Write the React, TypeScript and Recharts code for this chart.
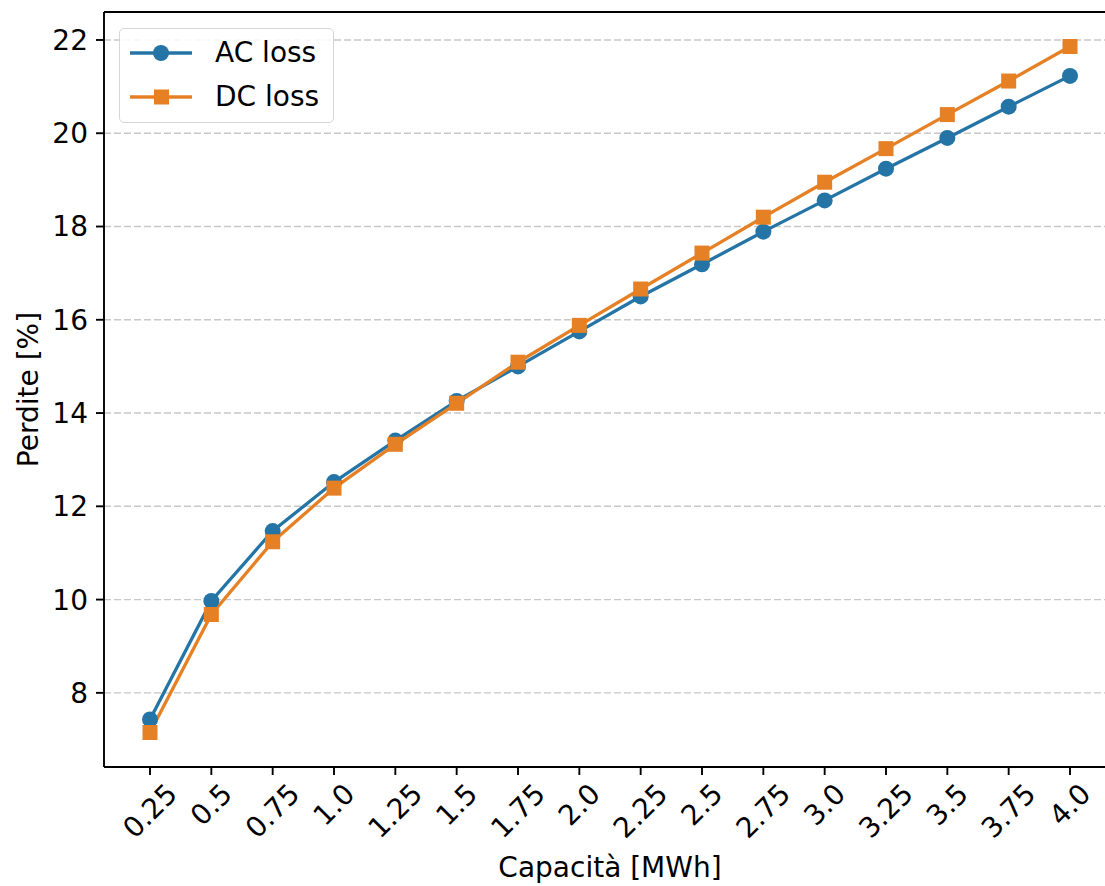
import React from "react";
import {
    LineChart,
    Line,
    XAxis,
    YAxis,
    CartesianGrid,
    ReferenceLine,
} from "recharts";

// Storage capacity (MWh) and the matching tick labels
const capacity = [0.25, 0.5, 0.75, 1.0, 1.25, 1.5, 1.75, 2.0, 2.25, 2.5, 2.75, 3.0, 3.25, 3.5, 3.75, 4.0];
const capacityLabels = ["0.25", "0.5", "0.75", "1.0", "1.25", "1.5", "1.75", "2.0", "2.25", "2.5", "2.75", "3.0", "3.25", "3.5", "3.75", "4.0"];

// Losses in percent
const acLoss = [7.43, 9.97, 11.47, 12.52, 13.41, 14.26, 15.0, 15.75, 16.5, 17.19, 17.89, 18.56, 19.24, 19.9, 20.57, 21.23];
const dcLoss = [7.15, 9.68, 11.24, 12.39, 13.33, 14.21, 15.09, 15.88, 16.66, 17.43, 18.2, 18.95, 19.67, 20.4, 21.12, 21.86];

const yTicks = [8, 10, 12, 14, 16, 18, 20, 22];
const X_DOMAIN: [number, number] = [0.0625, 4.1875];
const Y_DOMAIN: [number, number] = [6.41, 22.6];

const BLUE = "#2474a6";
const ORANGE = "#e68024";
const FONT = "DejaVu Sans";
const FS = 28;

const data = capacity.map((c, i) => ({ x: c, ac: acLoss[i], dc: dcLoss[i] }));

const series = [
    { key: "ac", name: "AC loss", color: BLUE, square: false },
    { key: "dc", name: "DC loss", color: ORANGE, square: true },
];

// rough ink width of a numeric label in DejaVu Sans
const labelWidth = (s: string) =>
    s.split("").reduce((w, ch) => w + (ch === "." ? 0.318 : 0.636), 0) * FS - 3;

const RotatedTick = (props: any) => {
    const { x, y, payload } = props;
    const idx = capacity.indexOf(payload.value);
    const text = idx >= 0 ? capacityLabels[idx] : String(payload.value);
    const half = (labelWidth(text) + 20) * 0.3535;
    const cy = y + 6 + half;
    return (
        <text
            transform={`translate(${x},${cy}) rotate(-45)`}
            textAnchor="middle"
            dominantBaseline="central"
            fontFamily={FONT}
            fontSize={FS}
            fill="#000"
        >
            {text}
        </text>
    );
};

const SquareDot = (props: any) => {
    const { cx, cy, index } = props;
    if (cx == null || cy == null) return null;
    return <rect key={`sq-${index}`} x={cx - 7.5} y={cy - 7.5} width={15} height={15} fill={ORANGE} />;
};

// legend drawn over the top-left corner of the plot
const LegendBox = () => (
    <div
        style={{
            position: "absolute",
            left: 119,
            top: 28,
            width: 213,
            height: 93,
            border: "1.5px solid #d6d6d6",
            borderRadius: 5,
            background: "rgba(255,255,255,0.85)",
            fontFamily: FONT,
            fontSize: FS,
        }}
    >
        {series.map((item, i) => (
            <div key={item.key} style={{ position: "absolute", left: 0, top: 6 + i * 44, height: 36, display: "flex", alignItems: "center" }}>
                <svg width={84} height={36} style={{ display: "block" }}>
                    <line x1={10} x2={72} y1={18} y2={18} stroke={item.color} strokeWidth={3.3} />
                    {item.square ? (
                        <rect x={34} y={10.5} width={15} height={15} fill={item.color} />
                    ) : (
                        <circle cx={41} cy={18} r={8} fill={item.color} />
                    )}
                </svg>
                <span style={{ marginLeft: 11, lineHeight: "36px", color: "#000" }}>{item.name}</span>
            </div>
        ))}
    </div>
);

export default function App() {
    return (
        <div style={{ position: "absolute", left: 0, top: 0, width: 1105, height: 886, overflow: "hidden", background: "#fff" }}>
            <LineChart width={1116} height={886} data={data} margin={{ top: 12, right: 0, bottom: 0, left: 0 }}>
                <CartesianGrid vertical={false} stroke="#c8c8c8" strokeWidth={1.4} strokeDasharray="7 3" />
                <XAxis
                    type="number"
                    dataKey="x"
                    domain={X_DOMAIN}
                    ticks={capacity}
                    interval={0}
                    allowDataOverflow
                    height={119}
                    tickSize={8}
                    tickLine={{ stroke: "#000", strokeWidth: 1.9 }}
                    axisLine={{ stroke: "#000", strokeWidth: 1.9 }}
                    tick={<RotatedTick />}
                    label={{
                        content: (p: any) => {
                            const vb = p.viewBox;
                            return (
                                <text x={vb.x + vb.width / 2} y={vb.y + 110} textAnchor="middle" fontFamily={FONT} fontSize={FS} fill="#000">
                                    Capacità [MWh]
                                </text>
                            );
                        },
                    }}
                />
                <YAxis
                    type="number"
                    domain={Y_DOMAIN}
                    ticks={yTicks}
                    allowDataOverflow
                    width={104}
                    tickSize={8}
                    tickMargin={8}
                    tickLine={{ stroke: "#000", strokeWidth: 1.9 }}
                    axisLine={{ stroke: "#000", strokeWidth: 1.9 }}
                    tick={{ fill: "#000", fontFamily: FONT, fontSize: FS }}
                    label={{
                        content: (p: any) => {
                            const vb = p.viewBox;
                            return (
                                <text
                                    transform={`translate(${vb.x + 38},${vb.y + vb.height / 2}) rotate(-90)`}
                                    textAnchor="middle"
                                    fontFamily={FONT}
                                    fontSize={FS}
                                    fill="#000"
                                >
                                    Perdite [%]
                                </text>
                            );
                        },
                    }}
                />
                {/* top spine */}
                <ReferenceLine y={Y_DOMAIN[1]} stroke="#000" strokeWidth={1.9} />
                <Line
                    type="linear"
                    dataKey="ac"
                    name="AC loss"
                    stroke={BLUE}
                    strokeWidth={3.3}
                    dot={{ r: 8, fill: BLUE, stroke: BLUE, strokeWidth: 0 }}
                    isAnimationActive={false}
                />
                <Line
                    type="linear"
                    dataKey="dc"
                    name="DC loss"
                    stroke={ORANGE}
                    strokeWidth={3.3}
                    dot={<SquareDot />}
                    isAnimationActive={false}
                />
            </LineChart>
            <LegendBox />
        </div>
    );
}
